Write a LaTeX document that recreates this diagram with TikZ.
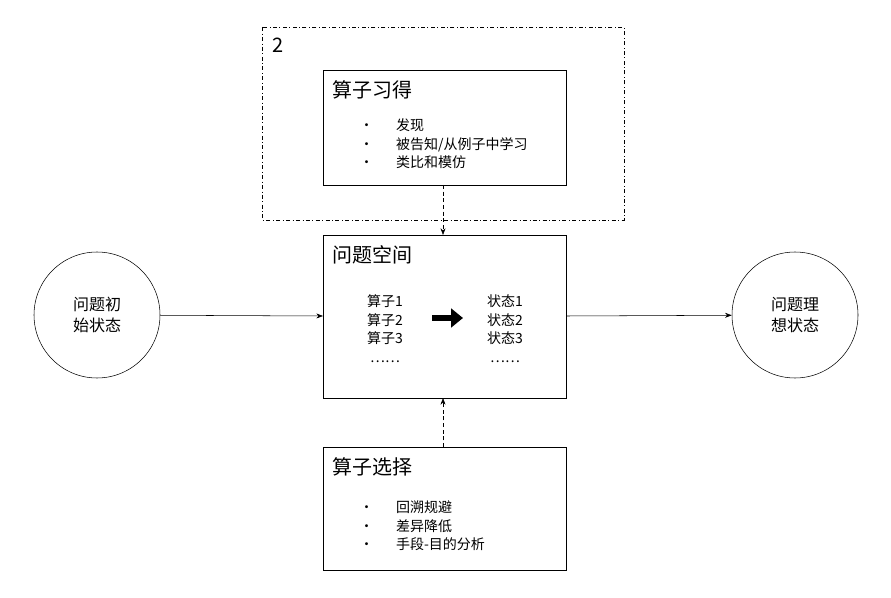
\documentclass[tikz,border=0pt]{standalone}
\usepackage{fontspec}
\setmainfont{Noto Sans CJK SC}
\usetikzlibrary{arrows.meta, positioning}
\tikzset{
    box/.style={draw, thick, minimum width=243pt*0.75, anchor=north west},
    title/.style={font=\fontsize{15}{18}\selectfont, anchor=north west},
    body/.style={font=\fontsize{10.5}{14}\selectfont, align=left, anchor=north west},
    state/.style={draw, circle, minimum size=94.5pt, align=center, font=\fontsize{12}{16}\selectfont},
    link/.style={-{Stealth[length=5pt]}},
    hint/.style={densely dashed, -{Stealth[length=5pt]}}
}
\begin{document}
\begin{tikzpicture}[x=0.75pt, y=-0.75pt]
    \useasboundingbox (0,0) rectangle (891,598);

    % dash-dot frame with its number
    \draw[dash dot] (262,27) rectangle (624,220);
    \node[title] (num) at (268,33) {2};

    % three boxes
    \draw (323,70) rectangle (566,185);
    \draw (323,235) rectangle (566,398);
    \draw (323,447) rectangle (566,570);
    \coordinate (learnS) at (443,185);
    \coordinate (spaceN) at (443,235);
    \coordinate (spaceS) at (443,398);
    \coordinate (selectN) at (443,447);
    \coordinate (spaceW) at (323,316);
    \coordinate (spaceE) at (566,316);

    \node[title] (learn) at (328,76) {算子习得};
    \node[body] (learnList) at (355,114) {•\hspace{1.6em}发现\\•\hspace{1.6em}被告知/从例子中学习\\•\hspace{1.6em}类比和模仿};

    \node[title] (space) at (328,241) {问题空间};
    \node[body, align=center, anchor=north] (ops) at (385,290) {算子1\\算子2\\算子3\\……};
    \node[body, align=center, anchor=north] (sts) at (505,290) {状态1\\状态2\\状态3\\……};
    \draw[line width=4pt, -{Triangle[length=9pt, width=14pt]}] (432,318) -- (463,318);

    \node[title] (select) at (328,453) {算子选择};
    \node[body] (selectList) at (355,496) {•\hspace{1.6em}回溯规避\\•\hspace{1.6em}差异降低\\•\hspace{1.6em}手段-目的分析};

    % start and goal states
    \node[state] (start) at (97,315) {问题初\\始状态};
    \node[state] (goal) at (795,315) {问题理\\想状态};

    % connectors
    \draw[link] (start) -- (spaceW);
    \draw[link] (spaceE) -- (goal);
    \draw[hint] (learnS) -- (spaceN);
    \draw[hint] (selectN) -- (spaceS);
\end{tikzpicture}
\end{document}
